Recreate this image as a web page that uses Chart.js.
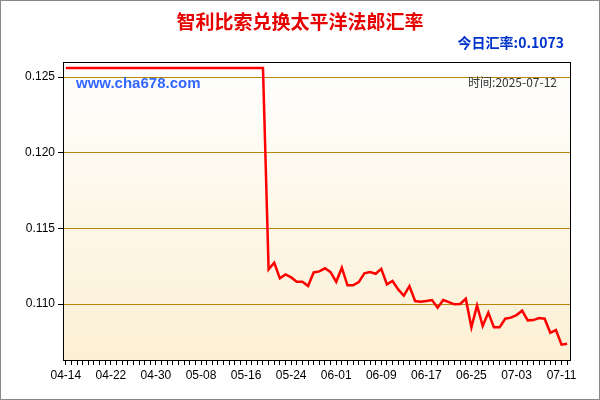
<!DOCTYPE html>
<html><head><meta charset="utf-8">
<script src="https://cdn.jsdelivr.net/npm/chart.js@4"></script>
<style>html,body{margin:0;padding:0;background:#fff}#wrap{width:600px;height:400px}</style>
</head><body><div id="wrap"><canvas id="c" width="600" height="400"></canvas></div>
<script>
// CLP -> XPF daily rate, 2025-04-14 .. 2025-07-12
const startDate = "2025-04-14";
const tickLabels = ["04-14","04-22","04-30","05-08","05-16","05-24","06-01","06-09","06-17","06-25","07-03","07-11"];
const flatRate = Array(36).fill(0.1256);
const laterRate = [
  0.11229,0.11273,0.11170,0.11196,0.11176,0.11147,0.11147,0.11119,0.11209,0.11216,
  0.11236,0.11211,0.11147,0.11240,0.11124,0.11124,0.11145,0.11203,0.11211,0.11200,
  0.11233,0.11130,0.11152,0.11097,0.11055,0.11119,0.11020,0.11015,0.11020,0.11026,
  0.10976,0.11026,0.11013,0.10998,0.11000,0.11035,0.10846,0.10991,0.10855,0.10943,
  0.10846,0.10846,0.10903,0.10910,0.10927,0.10956,0.10892,0.10894,0.10907,0.10903,
  0.10810,0.10828,0.10731,0.10737
];
const rates = flatRate.concat(laterRate);
const yTicks = [0.110, 0.115, 0.120, 0.125];

const decor = {
  id: "decor",
  beforeDraw(chart) {
    const { ctx, chartArea: a } = chart;
    ctx.save();
    ctx.fillStyle = "#fff";
    ctx.fillRect(0, 0, 600, 400);
    const g = ctx.createLinearGradient(0, a.top, 0, a.bottom);
    g.addColorStop(0, "#ffffff");
    g.addColorStop(1, "#fcf0d4");
    ctx.fillStyle = g;
    ctx.fillRect(a.left, a.top, a.right - a.left, a.bottom - a.top);
    ctx.restore();
  },
  afterDraw(chart) {
    const { ctx, chartArea: a } = chart;
    ctx.save();
    ctx.strokeStyle = "#888";
    ctx.lineWidth = 1;
    ctx.strokeRect(0.5, 0.5, 599, 399);
    ctx.strokeStyle = "#000";
    ctx.strokeRect(a.left + 0.5, a.top + 0.5, a.right - a.left, a.bottom - a.top);
    ctx.textBaseline = "middle";
    ctx.textAlign = "center";
    ctx.fillStyle = "#e60000";
    ctx.font = "bold 19px 'Noto Sans CJK SC'";
    ctx.fillText("智利比索兑换太平洋法郎汇率", 300, 22);
    ctx.textAlign = "right";
    ctx.fillStyle = "#0033cc";
    ctx.font = "bold 14px 'Noto Sans CJK SC'";
    ctx.fillText("今日汇率:0.1073", 564, 43);
    ctx.textAlign = "left";
    ctx.font = "bold 15px Arial, 'Liberation Sans'";
    ctx.fillStyle = "#3366ff";
    ctx.fillText("www.cha678.com", 76, 84);
    ctx.textAlign = "right";
    ctx.fillStyle = "#333";
    ctx.font = "12px 'Noto Sans CJK SC'";
    ctx.fillText("时间:2025-07-12", 557, 82);
    ctx.restore();
  }
};

new Chart(document.getElementById("c"), {
  type: "line",
  data: {
    datasets: [{
      data: rates.map((v, i) => ({ x: i, y: v })),
      borderColor: "#ff0000",
      borderWidth: 2.5,
      pointRadius: 0,
      tension: 0,
    }],
  },
  options: {
    responsive: false,
    animation: false,
    layout: { padding: { top: 62, right: 30, left: 0, bottom: 0 } },
    plugins: { legend: { display: false }, tooltip: { enabled: false } },
    scales: {
      x: {
        type: "linear", min: -0.5, max: 89.5,
        afterFit: s => { s.height = 40; },
        afterBuildTicks: s => { s.ticks = rates.map((_, i) => ({ value: i })); },
        grid: { drawOnChartArea: false, tickLength: 5, color: "#000" },
        border: { color: "#000" },
        ticks: {
          autoSkip: false, maxRotation: 0, color: "#000",
          font: { size: 12, family: "Arial, 'Liberation Sans'" },
          callback: v => (v % 8 === 0 ? tickLabels[v / 8] : ""),
        },
      },
      y: {
        min: 0.1063, max: 0.126,
        afterFit: s => { s.width = 63; },
        afterBuildTicks: s => { s.ticks = yTicks.map(v => ({ value: v })); },
        grid: { color: "#b8860b", tickLength: 5, tickColor: "#000" },
        border: { color: "#000" },
        ticks: {
          color: "#000", font: { size: 12, family: "Arial, 'Liberation Sans'" },
          callback: v => v.toFixed(3),
        },
      },
    },
  },
  plugins: [decor],
});
</script></body></html>
